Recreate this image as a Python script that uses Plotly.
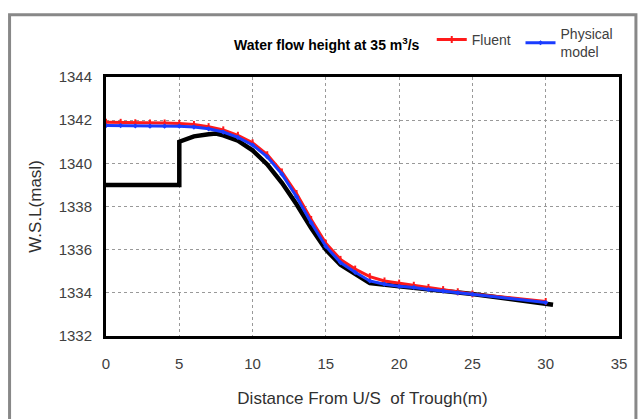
import plotly.graph_objects as go

# Fluent (CFD) water surface
fluent_x = [0, 1, 2, 3, 4, 5, 6, 7, 8, 9, 10, 11, 12, 13, 14, 15, 16, 17, 18, 19, 20, 21, 22, 23, 24, 25, 30]
fluent_y = [1341.9, 1341.9, 1341.88, 1341.87, 1341.87, 1341.85, 1341.8, 1341.7, 1341.55, 1341.3,
            1340.95, 1340.4, 1339.6, 1338.6, 1337.4, 1336.3, 1335.55, 1335.1, 1334.75, 1334.55,
            1334.45, 1334.35, 1334.25, 1334.15, 1334.05, 1333.95, 1333.6]

# Physical model water surface
phys_x = [0, 1, 2, 3, 4, 5, 6, 7, 8, 9, 10, 11, 12, 13, 14, 15, 16, 17, 18, 19, 20, 21, 22, 23, 24, 25, 30]
phys_y = [1341.75, 1341.75, 1341.73, 1341.72, 1341.72, 1341.72, 1341.68, 1341.6, 1341.45, 1341.2,
          1340.85, 1340.3, 1339.5, 1338.45, 1337.25, 1336.15, 1335.4, 1334.95, 1334.55, 1334.4,
          1334.3, 1334.25, 1334.15, 1334.08, 1334.0, 1333.93, 1333.55]

# Trough bed / structure profile
bed_x = [0, 5, 5, 6, 7, 7.5, 8, 9, 10, 11, 12, 13, 14, 15, 16, 17, 18, 20, 25, 30.5]
bed_y = [1339, 1339, 1341, 1341.25, 1341.35, 1341.38, 1341.3, 1341.05, 1340.6, 1339.95,
         1339.1, 1338.1, 1337.0, 1336.0, 1335.3, 1334.9, 1334.45, 1334.3, 1333.95, 1333.45]

x_ticks = [0, 5, 10, 15, 20, 25, 30, 35]
y_ticks = [1332, 1334, 1336, 1338, 1340, 1342, 1344]

FONT = "Liberation Sans Narrow, Liberation Sans, Arial"

fig = go.Figure()
fig.add_trace(go.Scatter(x=bed_x, y=bed_y, mode="lines", line=dict(color="black", width=4.5),
                         showlegend=False, hoverinfo="skip"))
fig.add_trace(go.Scatter(x=fluent_x, y=fluent_y, mode="lines+markers", name="Fluent",
                         line=dict(color="#ff1a1a", width=3), legend="legend",
                         marker=dict(symbol="line-ns", size=5, color="#ff1a1a",
                                     line=dict(color="#ff1a1a", width=2))))
fig.add_trace(go.Scatter(x=phys_x, y=phys_y, mode="lines+markers", name="Physical<br>model",
                         line=dict(color="#1a3cff", width=3), legend="legend2",
                         marker=dict(symbol="diamond", size=4, color="#1a3cff")))

leg_common = dict(orientation="h", xanchor="left", yanchor="middle",
                  font=dict(family=FONT, size=14, color="#404040"),
                  itemwidth=30, bgcolor="rgba(0,0,0,0)")

fig.update_layout(
    width=639, height=419,
    margin=dict(l=106, r=16, t=77, b=83),
    paper_bgcolor="white", plot_bgcolor="white",
    font=dict(family=FONT, size=14, color="#404040"),
    showlegend=True,
    legend=dict(x=0.635, y=1.143, **leg_common),
    legend2=dict(x=0.808, y=1.131, **leg_common),
    xaxis=dict(range=[0, 35], tickvals=x_ticks, ticks="", showgrid=True,
               gridcolor="#999999", griddash="dot", gridwidth=1,
               showline=True, linecolor="black", linewidth=3, mirror=True,
               zeroline=False, tickfont=dict(size=15), ticklabelstandoff=12,
               title=dict(text="Distance From U/S  of Trough(m)", font=dict(size=17, color="#303030"),
                          standoff=22)),
    yaxis=dict(range=[1332, 1344], tickvals=y_ticks, ticks="", showgrid=True,
               gridcolor="#999999", griddash="dot", gridwidth=1,
               showline=True, linecolor="black", linewidth=3, mirror=True,
               zeroline=False, tickfont=dict(size=15), ticklabelstandoff=8,
               title=dict(text="W.S.L(masl)", font=dict(size=17, color="#303030"), standoff=13)),
    annotations=[dict(text="<b>Water flow height at 35 m<sup>3</sup>/s</b>", xref="paper", yref="paper",
                      x=0.43, y=1.0, yshift=33, xanchor="center", yanchor="middle", showarrow=False,
                      font=dict(family=FONT, size=14, color="black"))],
    shapes=[dict(type="rect", xref="paper", yref="paper", x0=-0.188, x1=1.033, y0=-0.4, y1=1.24,
                 line=dict(color="#888888", width=3), fillcolor="rgba(0,0,0,0)", layer="below")],
)

fig.write_html("out.html")
